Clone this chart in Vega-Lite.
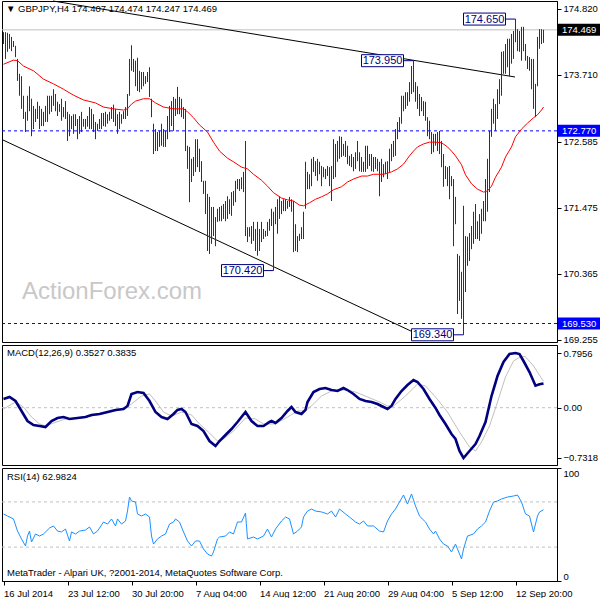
{
"$schema": "https://vega.github.io/schema/vega-lite/v6.json",
"background": "white",
"padding": {"left": -3, "top": 0, "right": 0, "bottom": 0},
"spacing": 3,
"bounds": "flush",
"config": {
  "view": {"stroke": "#000000", "strokeWidth": 1},
  "font": "Liberation Sans",
  "axis": {"grid": false, "labelFont": "Liberation Sans", "labelFontSize": 9.5, "labelColor": "#000000", "tickColor": "#000000", "domainColor": "#000000", "tickSize": 4, "labelPadding": 2, "title": null, "labelOverlap": false}
},
"resolve": {"scale": {"x": "independent", "y": "independent"}},
"datasets": {
"one": [{}],
"bars": [{"i":0,"h":174.43,"l":174.23},{"i":1,"h":174.43,"l":173.98},{"i":2,"h":174.42,"l":174.10},{"i":3,"h":174.40,"l":174.15},{"i":4,"h":174.35,"l":174.11},{"i":5,"h":174.28,"l":174.18},{"i":6,"h":174.20,"l":174.01},{"i":7,"h":173.98,"l":173.61},{"i":8,"h":173.73,"l":173.36},{"i":9,"h":173.69,"l":173.14},{"i":10,"h":173.36,"l":172.97},{"i":11,"h":173.09,"l":172.75},{"i":12,"h":173.36,"l":172.94},{"i":13,"h":173.52,"l":173.10},{"i":14,"h":173.31,"l":172.68},{"i":15,"h":173.19,"l":172.80},{"i":16,"h":173.14,"l":172.92},{"i":17,"h":173.26,"l":172.97},{"i":18,"h":173.19,"l":172.80},{"i":19,"h":173.14,"l":172.85},{"i":20,"h":173.09,"l":172.85},{"i":21,"h":173.19,"l":172.92},{"i":22,"h":173.36,"l":172.92},{"i":23,"h":173.36,"l":173.05},{"i":24,"h":173.36,"l":173.09},{"i":25,"h":173.47,"l":173.19},{"i":26,"h":173.39,"l":173.10},{"i":27,"h":173.26,"l":173.02},{"i":28,"h":173.22,"l":173.09},{"i":29,"h":173.31,"l":172.94},{"i":30,"h":173.17,"l":173.00},{"i":31,"h":173.27,"l":172.97},{"i":32,"h":173.09,"l":172.60},{"i":33,"h":173.05,"l":172.68},{"i":34,"h":173.02,"l":172.80},{"i":35,"h":173.05,"l":172.72},{"i":36,"h":173.05,"l":172.85},{"i":37,"h":172.97,"l":172.63},{"i":38,"h":173.02,"l":172.72},{"i":39,"h":173.09,"l":172.75},{"i":40,"h":172.97,"l":172.84},{"i":41,"h":172.97,"l":172.80},{"i":42,"h":173.02,"l":172.84},{"i":43,"h":173.17,"l":172.80},{"i":44,"h":173.14,"l":172.80},{"i":45,"h":173.05,"l":172.75},{"i":46,"h":172.92,"l":172.63},{"i":47,"h":172.89,"l":172.77},{"i":48,"h":172.97,"l":172.80},{"i":49,"h":173.07,"l":172.80},{"i":50,"h":173.07,"l":172.85},{"i":51,"h":173.09,"l":172.84},{"i":52,"h":173.05,"l":172.89},{"i":53,"h":173.09,"l":172.94},{"i":54,"h":173.17,"l":172.97},{"i":55,"h":173.21,"l":172.92},{"i":56,"h":173.14,"l":172.85},{"i":57,"h":173.05,"l":172.72},{"i":58,"h":173.09,"l":172.80},{"i":59,"h":173.05,"l":172.89},{"i":60,"h":173.10,"l":172.97},{"i":61,"h":173.17,"l":172.97},{"i":62,"h":173.39,"l":173.02},{"i":63,"h":173.98,"l":173.36},{"i":64,"h":174.21,"l":173.78},{"i":65,"h":173.98,"l":173.76},{"i":66,"h":173.95,"l":173.52},{"i":67,"h":174.00,"l":173.44},{"i":68,"h":173.78,"l":173.42},{"i":69,"h":173.76,"l":173.47},{"i":70,"h":173.76,"l":173.52},{"i":71,"h":173.69,"l":173.56},{"i":72,"h":173.76,"l":173.59},{"i":73,"h":173.84,"l":173.34},{"i":74,"h":173.31,"l":173.00},{"i":75,"h":172.89,"l":172.38},{"i":76,"h":172.80,"l":172.43},{"i":77,"h":172.75,"l":172.43},{"i":78,"h":172.77,"l":172.50},{"i":79,"h":172.89,"l":172.52},{"i":80,"h":172.80,"l":172.50},{"i":81,"h":172.77,"l":172.50},{"i":82,"h":173.02,"l":172.63},{"i":83,"h":173.19,"l":172.75},{"i":84,"h":173.27,"l":172.85},{"i":85,"h":173.34,"l":172.77},{"i":86,"h":173.31,"l":173.02},{"i":87,"h":173.51,"l":173.05},{"i":88,"h":173.34,"l":173.05},{"i":89,"h":173.31,"l":173.00},{"i":90,"h":173.17,"l":172.97},{"i":91,"h":173.14,"l":172.43},{"i":92,"h":172.52,"l":172.13},{"i":93,"h":172.50,"l":171.57},{"i":94,"h":172.30,"l":171.91},{"i":95,"h":172.33,"l":172.01},{"i":96,"h":172.63,"l":172.08},{"i":97,"h":172.63,"l":172.16},{"i":98,"h":172.47,"l":172.08},{"i":99,"h":172.26,"l":171.91},{"i":100,"h":171.93,"l":171.71},{"i":101,"h":171.93,"l":171.37},{"i":102,"h":171.71,"l":170.75},{"i":103,"h":171.66,"l":170.70},{"i":104,"h":171.49,"l":170.87},{"i":105,"h":171.49,"l":171.00},{"i":106,"h":171.32,"l":170.83},{"i":107,"h":171.46,"l":171.24},{"i":108,"h":171.49,"l":171.25},{"i":109,"h":171.51,"l":171.25},{"i":110,"h":171.54,"l":171.29},{"i":111,"h":171.59,"l":171.25},{"i":112,"h":171.67,"l":171.29},{"i":113,"h":171.62,"l":171.37},{"i":114,"h":171.74,"l":171.34},{"i":115,"h":171.76,"l":171.51},{"i":116,"h":171.93,"l":171.57},{"i":117,"h":171.96,"l":171.79},{"i":118,"h":171.96,"l":171.76},{"i":119,"h":171.99,"l":171.79},{"i":120,"h":172.08,"l":171.74},{"i":121,"h":172.60,"l":171.00},{"i":122,"h":171.15,"l":170.90},{"i":123,"h":171.15,"l":170.99},{"i":124,"h":171.17,"l":170.87},{"i":125,"h":171.24,"l":170.92},{"i":126,"h":171.12,"l":170.75},{"i":127,"h":171.24,"l":170.67},{"i":128,"h":171.12,"l":170.75},{"i":129,"h":171.24,"l":170.90},{"i":130,"h":171.12,"l":170.95},{"i":131,"h":171.09,"l":170.99},{"i":132,"h":171.24,"l":171.00},{"i":133,"h":171.29,"l":171.09},{"i":134,"h":171.46,"l":171.17},{"i":135,"h":171.41,"l":170.42},{"i":136,"h":171.49,"l":171.20},{"i":137,"h":171.62,"l":171.04},{"i":138,"h":171.67,"l":171.29},{"i":139,"h":171.59,"l":171.37},{"i":140,"h":171.62,"l":171.42},{"i":141,"h":171.62,"l":171.42},{"i":142,"h":171.59,"l":171.46},{"i":143,"h":171.66,"l":171.49},{"i":144,"h":171.62,"l":171.41},{"i":145,"h":171.59,"l":170.73},{"i":146,"h":171.20,"l":170.75},{"i":147,"h":171.00,"l":170.73},{"i":148,"h":171.04,"l":170.92},{"i":149,"h":171.15,"l":170.95},{"i":150,"h":171.41,"l":170.95},{"i":151,"h":172.25,"l":171.46},{"i":152,"h":172.08,"l":171.79},{"i":153,"h":172.04,"l":171.79},{"i":154,"h":172.30,"l":171.84},{"i":155,"h":172.33,"l":172.08},{"i":156,"h":172.26,"l":172.01},{"i":157,"h":172.30,"l":171.93},{"i":158,"h":172.25,"l":172.04},{"i":159,"h":172.18,"l":171.84},{"i":160,"h":172.16,"l":171.99},{"i":161,"h":172.13,"l":171.96},{"i":162,"h":172.18,"l":172.01},{"i":163,"h":172.16,"l":171.84},{"i":164,"h":172.18,"l":171.59},{"i":165,"h":172.63,"l":171.96},{"i":166,"h":172.55,"l":171.99},{"i":167,"h":172.60,"l":172.25},{"i":168,"h":172.68,"l":172.30},{"i":169,"h":172.67,"l":172.33},{"i":170,"h":172.55,"l":172.35},{"i":171,"h":172.60,"l":172.33},{"i":172,"h":172.52,"l":172.21},{"i":173,"h":172.35,"l":172.18},{"i":174,"h":172.38,"l":172.16},{"i":175,"h":172.33,"l":172.09},{"i":176,"h":172.41,"l":172.13},{"i":177,"h":172.60,"l":172.26},{"i":178,"h":172.41,"l":172.09},{"i":179,"h":172.33,"l":172.08},{"i":180,"h":172.25,"l":172.08},{"i":181,"h":172.52,"l":172.08},{"i":182,"h":172.52,"l":172.13},{"i":183,"h":172.38,"l":172.18},{"i":184,"h":172.38,"l":172.09},{"i":185,"h":172.33,"l":172.08},{"i":186,"h":172.33,"l":172.13},{"i":187,"h":172.30,"l":172.09},{"i":188,"h":172.25,"l":171.67},{"i":189,"h":172.30,"l":171.91},{"i":190,"h":172.21,"l":171.99},{"i":191,"h":172.25,"l":172.04},{"i":192,"h":172.26,"l":171.96},{"i":193,"h":172.47,"l":172.08},{"i":194,"h":172.55,"l":172.26},{"i":195,"h":172.60,"l":172.33},{"i":196,"h":172.80,"l":172.35},{"i":197,"h":172.92,"l":172.63},{"i":198,"h":173.00,"l":172.75},{"i":199,"h":173.36,"l":172.89},{"i":200,"h":173.36,"l":173.10},{"i":201,"h":173.42,"l":173.14},{"i":202,"h":173.42,"l":173.19},{"i":203,"h":173.59,"l":173.26},{"i":204,"h":173.86,"l":173.39},{"i":205,"h":173.95,"l":173.42},{"i":206,"h":173.59,"l":173.26},{"i":207,"h":173.52,"l":173.14},{"i":208,"h":173.39,"l":173.02},{"i":209,"h":173.34,"l":173.10},{"i":210,"h":173.27,"l":173.02},{"i":211,"h":173.26,"l":172.94},{"i":212,"h":173.00,"l":172.68},{"i":213,"h":172.94,"l":172.63},{"i":214,"h":172.75,"l":172.38},{"i":215,"h":172.72,"l":172.41},{"i":216,"h":172.72,"l":172.52},{"i":217,"h":172.75,"l":172.43},{"i":218,"h":172.77,"l":172.38},{"i":219,"h":172.60,"l":172.16},{"i":220,"h":172.38,"l":171.83},{"i":221,"h":172.18,"l":171.96},{"i":222,"h":172.16,"l":171.84},{"i":223,"h":172.18,"l":171.62},{"i":224,"h":172.01,"l":171.84},{"i":225,"h":171.96,"l":170.83},{"i":226,"h":171.66,"l":171.20},{"i":227,"h":170.70,"l":169.69},{"i":228,"h":170.67,"l":169.91},{"i":229,"h":170.40,"l":169.61},{"i":230,"h":171.51,"l":169.34},{"i":231,"h":171.00,"l":170.06},{"i":232,"h":170.99,"l":170.50},{"i":233,"h":171.05,"l":170.58},{"i":234,"h":171.17,"l":170.78},{"i":235,"h":171.41,"l":170.87},{"i":236,"h":171.54,"l":170.95},{"i":237,"h":171.25,"l":170.95},{"i":238,"h":171.37,"l":170.92},{"i":239,"h":171.46,"l":171.04},{"i":240,"h":171.59,"l":171.25},{"i":241,"h":171.96,"l":171.25},{"i":242,"h":172.30,"l":171.41},{"i":243,"h":172.77,"l":171.74},{"i":244,"h":173.14,"l":172.67},{"i":245,"h":173.31,"l":172.89},{"i":246,"h":173.22,"l":172.77},{"i":247,"h":173.47,"l":172.97},{"i":248,"h":173.64,"l":173.22},{"i":249,"h":174.10,"l":173.36},{"i":250,"h":174.11,"l":173.73},{"i":251,"h":174.23,"l":173.73},{"i":252,"h":174.32,"l":173.84},{"i":253,"h":174.32,"l":173.69},{"i":254,"h":174.40,"l":173.90},{"i":255,"h":174.45,"l":173.98},{"i":256,"h":174.65,"l":174.26},{"i":257,"h":174.48,"l":174.11},{"i":258,"h":174.45,"l":174.10},{"i":259,"h":174.52,"l":173.95},{"i":260,"h":174.52,"l":174.11},{"i":261,"h":174.23,"l":173.95},{"i":262,"h":174.03,"l":173.81},{"i":263,"h":174.01,"l":173.78},{"i":264,"h":173.98,"l":173.47},{"i":265,"h":173.98,"l":173.14},{"i":266,"h":173.56,"l":173.00},{"i":267,"h":174.35,"l":173.52},{"i":268,"h":174.48,"l":174.15},{"i":269,"h":174.48,"l":174.23},{"i":270,"h":174.47,"l":174.25}],
"ma": [{"i":0,"p":173.89},{"i":5,"p":173.96},{"i":7,"p":173.95},{"i":10,"p":173.86},{"i":15,"p":173.78},{"i":20,"p":173.64},{"i":25,"p":173.56},{"i":30,"p":173.47},{"i":35,"p":173.37},{"i":40,"p":173.29},{"i":46,"p":173.24},{"i":50,"p":173.17},{"i":55,"p":173.14},{"i":60,"p":173.12},{"i":62,"p":173.14},{"i":64,"p":173.22},{"i":66,"p":173.27},{"i":70,"p":173.31},{"i":73,"p":173.31},{"i":76,"p":173.24},{"i":80,"p":173.17},{"i":85,"p":173.14},{"i":90,"p":173.14},{"i":92,"p":173.09},{"i":95,"p":172.99},{"i":98,"p":172.87},{"i":102,"p":172.75},{"i":105,"p":172.58},{"i":108,"p":172.43},{"i":112,"p":172.31},{"i":115,"p":172.25},{"i":119,"p":172.16},{"i":122,"p":172.13},{"i":125,"p":172.04},{"i":129,"p":171.94},{"i":132,"p":171.84},{"i":135,"p":171.73},{"i":139,"p":171.64},{"i":142,"p":171.61},{"i":145,"p":171.59},{"i":148,"p":171.52},{"i":150,"p":171.51},{"i":153,"p":171.56},{"i":156,"p":171.62},{"i":159,"p":171.66},{"i":162,"p":171.71},{"i":165,"p":171.78},{"i":169,"p":171.83},{"i":172,"p":171.91},{"i":175,"p":171.96},{"i":179,"p":172.01},{"i":182,"p":172.01},{"i":185,"p":172.04},{"i":190,"p":172.04},{"i":194,"p":172.08},{"i":197,"p":172.13},{"i":200,"p":172.21},{"i":203,"p":172.35},{"i":205,"p":172.43},{"i":207,"p":172.50},{"i":210,"p":172.55},{"i":213,"p":172.58},{"i":216,"p":172.58},{"i":219,"p":172.57},{"i":222,"p":172.50},{"i":224,"p":172.43},{"i":226,"p":172.35},{"i":229,"p":172.20},{"i":231,"p":172.03},{"i":234,"p":171.88},{"i":237,"p":171.79},{"i":240,"p":171.74},{"i":242,"p":171.76},{"i":244,"p":171.84},{"i":246,"p":171.99},{"i":249,"p":172.16},{"i":251,"p":172.33},{"i":254,"p":172.50},{"i":256,"p":172.67},{"i":259,"p":172.80},{"i":262,"p":172.90},{"i":265,"p":172.99},{"i":267,"p":173.04},{"i":269,"p":173.12},{"i":270,"p":173.17}],
"notes": [{"i":256,"p":174.65,"t":"174.650"},{"i":205,"p":173.95,"t":"173.950"},{"i":135,"p":170.42,"t":"170.420"},{"i":230,"p":169.34,"t":"169.340"}],
"tags": [{"p":174.469,"t":"174.469","bg":"#000000"},{"p":172.77,"t":"172.770","bg":"#0000ff"},{"p":169.53,"t":"169.530","bg":"#0000ff"}],
"macd": [{"i":0,"v":0.127},{"i":3,"v":0.156},{"i":6,"v":0.097},{"i":9,"v":-0.048},{"i":12,"v":-0.194},{"i":15,"v":-0.252},{"i":18,"v":-0.266},{"i":21,"v":-0.281},{"i":24,"v":-0.194},{"i":27,"v":-0.150},{"i":30,"v":-0.135},{"i":33,"v":-0.164},{"i":37,"v":-0.150},{"i":41,"v":-0.135},{"i":44,"v":-0.106},{"i":48,"v":-0.092},{"i":52,"v":-0.063},{"i":56,"v":-0.033},{"i":60,"v":-0.019},{"i":62,"v":0.025},{"i":64,"v":0.199},{"i":67,"v":0.228},{"i":70,"v":0.214},{"i":73,"v":0.097},{"i":76,"v":-0.063},{"i":79,"v":-0.135},{"i":82,"v":-0.164},{"i":85,"v":-0.092},{"i":87,"v":-0.033},{"i":89,"v":-0.019},{"i":91,"v":-0.063},{"i":94,"v":-0.237},{"i":97,"v":-0.266},{"i":100,"v":-0.339},{"i":103,"v":-0.485},{"i":106,"v":-0.557},{"i":108,"v":-0.485},{"i":111,"v":-0.397},{"i":114,"v":-0.310},{"i":117,"v":-0.208},{"i":121,"v":-0.063},{"i":124,"v":-0.194},{"i":127,"v":-0.266},{"i":130,"v":-0.266},{"i":133,"v":-0.208},{"i":134,"v":-0.194},{"i":136,"v":-0.223},{"i":139,"v":-0.150},{"i":142,"v":-0.048},{"i":144,"v":0.010},{"i":146,"v":-0.063},{"i":149,"v":-0.092},{"i":151,"v":-0.033},{"i":152,"v":0.083},{"i":155,"v":0.228},{"i":158,"v":0.272},{"i":161,"v":0.286},{"i":164,"v":0.257},{"i":167,"v":0.243},{"i":170,"v":0.286},{"i":172,"v":0.257},{"i":175,"v":0.199},{"i":178,"v":0.127},{"i":181,"v":0.097},{"i":184,"v":0.083},{"i":187,"v":0.054},{"i":190,"v":0.010},{"i":192,"v":-0.019},{"i":194,"v":0.025},{"i":196,"v":0.127},{"i":199,"v":0.243},{"i":202,"v":0.330},{"i":205,"v":0.403},{"i":207,"v":0.374},{"i":210,"v":0.272},{"i":213,"v":0.127},{"i":216,"v":-0.004},{"i":218,"v":-0.106},{"i":221,"v":-0.237},{"i":224,"v":-0.383},{"i":226,"v":-0.455},{"i":228,"v":-0.630},{"i":230,"v":-0.7318},{"i":233,"v":-0.630},{"i":236,"v":-0.528},{"i":238,"v":-0.412},{"i":241,"v":-0.208},{"i":244,"v":0.170},{"i":247,"v":0.461},{"i":250,"v":0.665},{"i":253,"v":0.781},{"i":256,"v":0.7956},{"i":258,"v":0.781},{"i":260,"v":0.679},{"i":263,"v":0.519},{"i":266,"v":0.32},{"i":268,"v":0.34},{"i":270,"v":0.3527}],
"sig": [{"i":0,"v":-0.019},{"i":6,"v":0.083},{"i":10,"v":0.010},{"i":14,"v":-0.135},{"i":18,"v":-0.237},{"i":21,"v":-0.266},{"i":25,"v":-0.223},{"i":31,"v":-0.164},{"i":37,"v":-0.150},{"i":44,"v":-0.121},{"i":52,"v":-0.077},{"i":60,"v":-0.019},{"i":64,"v":0.054},{"i":69,"v":0.170},{"i":73,"v":0.199},{"i":76,"v":0.097},{"i":80,"v":-0.063},{"i":84,"v":-0.121},{"i":89,"v":-0.063},{"i":94,"v":-0.106},{"i":98,"v":-0.237},{"i":103,"v":-0.368},{"i":107,"v":-0.485},{"i":110,"v":-0.455},{"i":115,"v":-0.339},{"i":121,"v":-0.150},{"i":126,"v":-0.164},{"i":130,"v":-0.237},{"i":136,"v":-0.237},{"i":142,"v":-0.135},{"i":147,"v":-0.048},{"i":151,"v":-0.048},{"i":155,"v":0.054},{"i":159,"v":0.170},{"i":165,"v":0.258},{"i":171,"v":0.258},{"i":176,"v":0.228},{"i":182,"v":0.156},{"i":188,"v":0.083},{"i":192,"v":0.025},{"i":195,"v":0.025},{"i":201,"v":0.170},{"i":207,"v":0.345},{"i":211,"v":0.316},{"i":216,"v":0.156},{"i":222,"v":-0.063},{"i":228,"v":-0.354},{"i":233,"v":-0.572},{"i":236,"v":-0.630},{"i":239,"v":-0.499},{"i":243,"v":-0.266},{"i":247,"v":0.083},{"i":251,"v":0.447},{"i":255,"v":0.679},{"i":259,"v":0.75},{"i":261,"v":0.74},{"i":265,"v":0.607},{"i":270,"v":0.3835}],
"rsi": [{"i":0,"v":59.3},{"i":2,"v":57.5},{"i":5,"v":54.9},{"i":7,"v":44.2},{"i":9,"v":37.2},{"i":11,"v":31.0},{"i":12,"v":39.8},{"i":13,"v":44.2},{"i":14,"v":34.5},{"i":16,"v":41.6},{"i":18,"v":39.8},{"i":20,"v":41.6},{"i":23,"v":46.9},{"i":25,"v":48.7},{"i":27,"v":44.2},{"i":29,"v":43.4},{"i":31,"v":46.0},{"i":33,"v":35.4},{"i":34,"v":43.4},{"i":36,"v":41.6},{"i":38,"v":44.2},{"i":41,"v":45.1},{"i":43,"v":47.8},{"i":45,"v":41.6},{"i":47,"v":44.2},{"i":50,"v":52.2},{"i":52,"v":50.4},{"i":54,"v":54.9},{"i":56,"v":48.7},{"i":57,"v":54.9},{"i":59,"v":50.4},{"i":61,"v":53.1},{"i":62,"v":61.9},{"i":63,"v":74.3},{"i":64,"v":70.8},{"i":66,"v":69.9},{"i":67,"v":59.3},{"i":69,"v":57.5},{"i":71,"v":59.3},{"i":73,"v":56.6},{"i":74,"v":39.8},{"i":75,"v":32.7},{"i":77,"v":37.2},{"i":79,"v":39.8},{"i":81,"v":41.6},{"i":83,"v":50.4},{"i":85,"v":52.2},{"i":86,"v":54.9},{"i":88,"v":52.2},{"i":90,"v":43.4},{"i":92,"v":35.4},{"i":94,"v":31.0},{"i":96,"v":35.4},{"i":98,"v":35.4},{"i":100,"v":28.3},{"i":102,"v":23.9},{"i":104,"v":22.1},{"i":105,"v":25.7},{"i":107,"v":37.2},{"i":108,"v":38.9},{"i":111,"v":39.8},{"i":113,"v":43.4},{"i":115,"v":41.6},{"i":117,"v":52.2},{"i":119,"v":52.2},{"i":121,"v":60.2},{"i":122,"v":37.2},{"i":125,"v":38.9},{"i":127,"v":37.2},{"i":130,"v":39.8},{"i":132,"v":46.0},{"i":134,"v":38.9},{"i":136,"v":46.0},{"i":139,"v":53.1},{"i":141,"v":56.6},{"i":143,"v":54.9},{"i":145,"v":41.6},{"i":147,"v":44.2},{"i":149,"v":47.8},{"i":150,"v":56.6},{"i":152,"v":61.9},{"i":154,"v":63.7},{"i":156,"v":61.9},{"i":159,"v":61.1},{"i":162,"v":59.3},{"i":164,"v":61.9},{"i":166,"v":56.6},{"i":168,"v":63.7},{"i":171,"v":59.3},{"i":173,"v":56.6},{"i":176,"v":52.2},{"i":178,"v":50.4},{"i":180,"v":53.1},{"i":182,"v":48.7},{"i":185,"v":48.7},{"i":188,"v":44.2},{"i":190,"v":43.4},{"i":192,"v":53.1},{"i":194,"v":59.3},{"i":196,"v":63.7},{"i":198,"v":69.9},{"i":200,"v":76.1},{"i":202,"v":68.1},{"i":204,"v":77.0},{"i":206,"v":66.4},{"i":208,"v":57.5},{"i":211,"v":52.2},{"i":213,"v":46.0},{"i":215,"v":41.6},{"i":216,"v":44.2},{"i":218,"v":37.2},{"i":220,"v":32.7},{"i":222,"v":31.0},{"i":224,"v":25.7},{"i":226,"v":32.7},{"i":228,"v":23.9},{"i":229,"v":19.5},{"i":230,"v":28.3},{"i":232,"v":39.8},{"i":235,"v":41.6},{"i":237,"v":46.0},{"i":239,"v":48.7},{"i":241,"v":52.2},{"i":243,"v":61.9},{"i":245,"v":69.9},{"i":247,"v":70.8},{"i":249,"v":72.6},{"i":252,"v":74.3},{"i":255,"v":75.2},{"i":257,"v":76.1},{"i":259,"v":69.9},{"i":261,"v":59.3},{"i":263,"v":57.5},{"i":265,"v":43.4},{"i":267,"v":57.5},{"i":268,"v":61.1},{"i":270,"v":62.98}]
},
"vconcat": [
{
 "width": 555, "height": 341,
 "layer": [
  {"data": {"name": "one"}, "mark": {"type": "rule", "color": "#c0c0c0", "strokeWidth": 1},
   "encoding": {"y": {"datum": 174.469, "type": "quantitative", "scale": {"domain": [169.219, 174.954], "nice": false, "zero": false}}}},
  {"data": {"name": "one"}, "mark": {"type": "rule", "color": "#0000ff", "strokeWidth": 1, "strokeDash": [3, 3]},
   "encoding": {"y": {"datum": 172.77, "type": "quantitative", "scale": {"domain": [169.219, 174.954], "nice": false, "zero": false}}}},
  {"data": {"name": "one"}, "mark": {"type": "rule", "color": "#0000ff", "strokeWidth": 1, "strokeDash": [3, 3]},
   "encoding": {"y": {"datum": 169.53, "type": "quantitative", "scale": {"domain": [169.219, 174.954], "nice": false, "zero": false}}}},
  {"data": {"name": "one"}, "mark": {"type": "rule", "color": "#000000", "strokeWidth": 1},
   "encoding": {
     "x": {"datum": 24.75, "type": "quantitative", "scale": {"domain": [-0.75, 276.75], "nice": false, "zero": false}, "axis": null},
     "x2": {"datum": 255.75},
     "y": {"datum": 174.954, "type": "quantitative", "scale": {"domain": [169.219, 174.954], "nice": false, "zero": false}},
     "y2": {"datum": 173.676}}},
  {"data": {"name": "one"}, "mark": {"type": "rule", "color": "#000000", "strokeWidth": 1},
   "encoding": {
     "x": {"datum": -0.5, "type": "quantitative", "scale": {"domain": [-0.75, 276.75], "nice": false, "zero": false}, "axis": null},
     "x2": {"datum": 204.75},
     "y": {"datum": 172.62, "type": "quantitative", "scale": {"domain": [169.219, 174.954], "nice": false, "zero": false}},
     "y2": {"datum": 169.387}}},
  {"data": {"name": "one"}, "mark": {"type": "text", "text": "ActionForex.com", "font": "Liberation Sans", "fontSize": 24, "color": "#c8c8c8", "align": "left", "baseline": "middle"},
   "encoding": {
     "x": {"datum": 9.25, "type": "quantitative", "scale": {"domain": [-0.75, 276.75], "nice": false, "zero": false}, "axis": null},
     "y": {"datum": 170.06, "type": "quantitative", "scale": {"domain": [169.219, 174.954], "nice": false, "zero": false}}}},
  {"data": {"name": "bars"},
   "mark": {"type": "rule", "color": "#0f3b5f", "strokeWidth": 1},
   "encoding": {
     "x": {"field": "i", "type": "quantitative", "scale": {"domain": [-0.75, 276.75], "nice": false, "zero": false}, "axis": null},
     "y": {"field": "l", "type": "quantitative", "scale": {"domain": [169.219, 174.954], "nice": false, "zero": false},
           "axis": {"orient": "right", "values": [174.82, 174.265, 173.71, 173.155, 172.585, 172.03, 171.475, 170.92, 170.365, 169.81, 169.255], "format": ".3f"}},
     "y2": {"field": "h"}}},
  {"data": {"name": "ma"},
   "mark": {"type": "line", "color": "#ff0000", "strokeWidth": 1},
   "encoding": {
     "x": {"field": "i", "type": "quantitative", "scale": {"domain": [-0.75, 276.75], "nice": false, "zero": false}, "axis": null},
     "y": {"field": "p", "type": "quantitative", "scale": {"domain": [169.219, 174.954], "nice": false, "zero": false}}}},
  {"data": {"name": "notes"},
   "mark": {"type": "rule", "color": "#000080", "strokeWidth": 1, "x2Offset": -10},
   "encoding": {
     "x": {"field": "i", "type": "quantitative", "scale": {"domain": [-0.75, 276.75], "nice": false, "zero": false}, "axis": null},
     "x2": {"field": "i"},
     "y": {"field": "p", "type": "quantitative", "scale": {"domain": [169.219, 174.954], "nice": false, "zero": false}}}},
  {"data": {"name": "notes"},
   "mark": {"type": "rect", "fill": "#ffffff", "stroke": "#000080", "strokeWidth": 1, "xOffset": -52, "x2Offset": -10, "yOffset": -6, "y2Offset": 6},
   "encoding": {
     "x": {"field": "i", "type": "quantitative", "scale": {"domain": [-0.75, 276.75], "nice": false, "zero": false}, "axis": null},
     "x2": {"field": "i"},
     "y": {"field": "p", "type": "quantitative", "scale": {"domain": [169.219, 174.954], "nice": false, "zero": false}},
     "y2": {"field": "p"}}},
  {"data": {"name": "notes"},
   "mark": {"type": "text", "font": "Liberation Sans", "fontSize": 11, "color": "#000080", "align": "center", "baseline": "middle", "xOffset": -31, "yOffset": 0.5},
   "encoding": {
     "x": {"field": "i", "type": "quantitative", "scale": {"domain": [-0.75, 276.75], "nice": false, "zero": false}, "axis": null},
     "y": {"field": "p", "type": "quantitative", "scale": {"domain": [169.219, 174.954], "nice": false, "zero": false}},
     "text": {"field": "t"}}},
  {"data": {"name": "one"}, "mark": {"type": "text", "text": "▼ GBPJPY,H4  174.407 174.474 174.247 174.469", "font": "Liberation Sans", "fontSize": 9.5, "color": "#000000", "align": "left", "baseline": "middle"},
   "encoding": {
     "x": {"datum": 1.25, "type": "quantitative", "scale": {"domain": [-0.75, 276.75], "nice": false, "zero": false}, "axis": null},
     "y": {"datum": 174.82, "type": "quantitative", "scale": {"domain": [169.219, 174.954], "nice": false, "zero": false}}}},
  {"data": {"name": "tags"},
   "mark": {"type": "rect", "xOffset": 1, "x2Offset": 43, "yOffset": -6, "y2Offset": 6},
   "encoding": {
     "x": {"datum": 276.75, "type": "quantitative", "scale": {"domain": [-0.75, 276.75], "nice": false, "zero": false}, "axis": null},
     "x2": {"datum": 276.75},
     "y": {"field": "p", "type": "quantitative", "scale": {"domain": [169.219, 174.954], "nice": false, "zero": false}},
     "y2": {"field": "p"},
     "fill": {"field": "bg", "type": "nominal", "scale": null}}},
  {"data": {"name": "tags"},
   "mark": {"type": "text", "font": "Liberation Sans", "fontSize": 9.5, "color": "#ffffff", "align": "left", "baseline": "middle", "xOffset": 5, "yOffset": 0.5},
   "encoding": {
     "x": {"datum": 276.75, "type": "quantitative", "scale": {"domain": [-0.75, 276.75], "nice": false, "zero": false}, "axis": null},
     "y": {"field": "p", "type": "quantitative", "scale": {"domain": [169.219, 174.954], "nice": false, "zero": false}},
     "text": {"field": "t"}}}
 ]
},
{
 "width": 555, "height": 120,
 "layer": [
  {"data": {"name": "one"}, "mark": {"type": "rule", "color": "#c0c0c0", "strokeWidth": 1, "strokeDash": [3, 3]},
   "encoding": {"y": {"datum": 0, "type": "quantitative", "scale": {"domain": [-0.8337, 0.912], "nice": false, "zero": false}}}},
  {"data": {"name": "sig"},
   "mark": {"type": "line", "color": "#c0c0c0", "strokeWidth": 1},
   "encoding": {
     "x": {"field": "i", "type": "quantitative", "scale": {"domain": [-0.75, 276.75], "nice": false, "zero": false}, "axis": null},
     "y": {"field": "v", "type": "quantitative", "scale": {"domain": [-0.8337, 0.912], "nice": false, "zero": false}}}},
  {"data": {"name": "macd"},
   "mark": {"type": "line", "color": "#000080", "strokeWidth": 2.6},
   "encoding": {
     "x": {"field": "i", "type": "quantitative", "scale": {"domain": [-0.75, 276.75], "nice": false, "zero": false}, "axis": null},
     "y": {"field": "v", "type": "quantitative", "scale": {"domain": [-0.8337, 0.912], "nice": false, "zero": false},
           "axis": {"orient": "right", "values": [0.7956, 0, -0.7318], "labelExpr": "datum.value == 0 ? '0.00' : format(datum.value, '.4f')"}}}},
  {"data": {"name": "one"}, "mark": {"type": "text", "text": "MACD(12,26,9) 0.3527 0.3835", "font": "Liberation Sans", "fontSize": 9.5, "color": "#000000", "align": "left", "baseline": "middle"},
   "encoding": {
     "x": {"datum": 1.75, "type": "quantitative", "scale": {"domain": [-0.75, 276.75], "nice": false, "zero": false}, "axis": null},
     "y": {"datum": 0.79, "type": "quantitative", "scale": {"domain": [-0.8337, 0.912], "nice": false, "zero": false}}}}
 ]
},
{
 "width": 555, "height": 113,
 "layer": [
  {"data": {"name": "one"}, "mark": {"type": "rule", "color": "#c0c0c0", "strokeWidth": 1, "strokeDash": [3, 3]},
   "encoding": {"y": {"datum": 70, "type": "quantitative", "scale": {"domain": [0, 100], "nice": false, "zero": false}}}},
  {"data": {"name": "one"}, "mark": {"type": "rule", "color": "#c0c0c0", "strokeWidth": 1, "strokeDash": [3, 3]},
   "encoding": {"y": {"datum": 30, "type": "quantitative", "scale": {"domain": [0, 100], "nice": false, "zero": false}}}},
  {"data": {"name": "rsi"},
   "mark": {"type": "line", "color": "#1e90ff", "strokeWidth": 1},
   "encoding": {
     "x": {"field": "i", "type": "quantitative", "scale": {"domain": [-0.75, 276.75], "nice": false, "zero": false},
           "axis": {"orient": "bottom", "values": [0, 32, 64, 96, 128, 160, 192, 224, 256], "labelExpr": "['16 Jul 2014','23 Jul 12:00','30 Jul 20:00','7 Aug 04:00','14 Aug 12:00','21 Aug 20:00','29 Aug 04:00','5 Sep 12:00','12 Sep 20:00'][round(datum.value / 32)]", "labelAlign": "left", "labelPadding": 3, "labelFlush": false}},
     "y": {"field": "v", "type": "quantitative", "scale": {"domain": [0, 100], "nice": false, "zero": false},
           "axis": {"orient": "right", "values": [100, 70, 30, 0], "labelFlush": true}}}},
  {"data": {"name": "one"}, "mark": {"type": "text", "text": "RSI(14) 62.9824", "font": "Liberation Sans", "fontSize": 9.5, "color": "#000000", "align": "left", "baseline": "middle"},
   "encoding": {
     "x": {"datum": 1.75, "type": "quantitative", "scale": {"domain": [-0.75, 276.75], "nice": false, "zero": false}},
     "y": {"datum": 92.3, "type": "quantitative", "scale": {"domain": [0, 100], "nice": false, "zero": false}}}},
  {"data": {"name": "one"}, "mark": {"type": "text", "text": "MetaTrader - Alpari UK, ?2001-2014, MetaQuotes Software Corp.", "font": "Liberation Sans", "fontSize": 9.5, "color": "#000000", "align": "left", "baseline": "middle"},
   "encoding": {
     "x": {"datum": 1.75, "type": "quantitative", "scale": {"domain": [-0.75, 276.75], "nice": false, "zero": false}},
     "y": {"datum": 6.8, "type": "quantitative", "scale": {"domain": [0, 100], "nice": false, "zero": false}}}}
 ]
}
]
}
